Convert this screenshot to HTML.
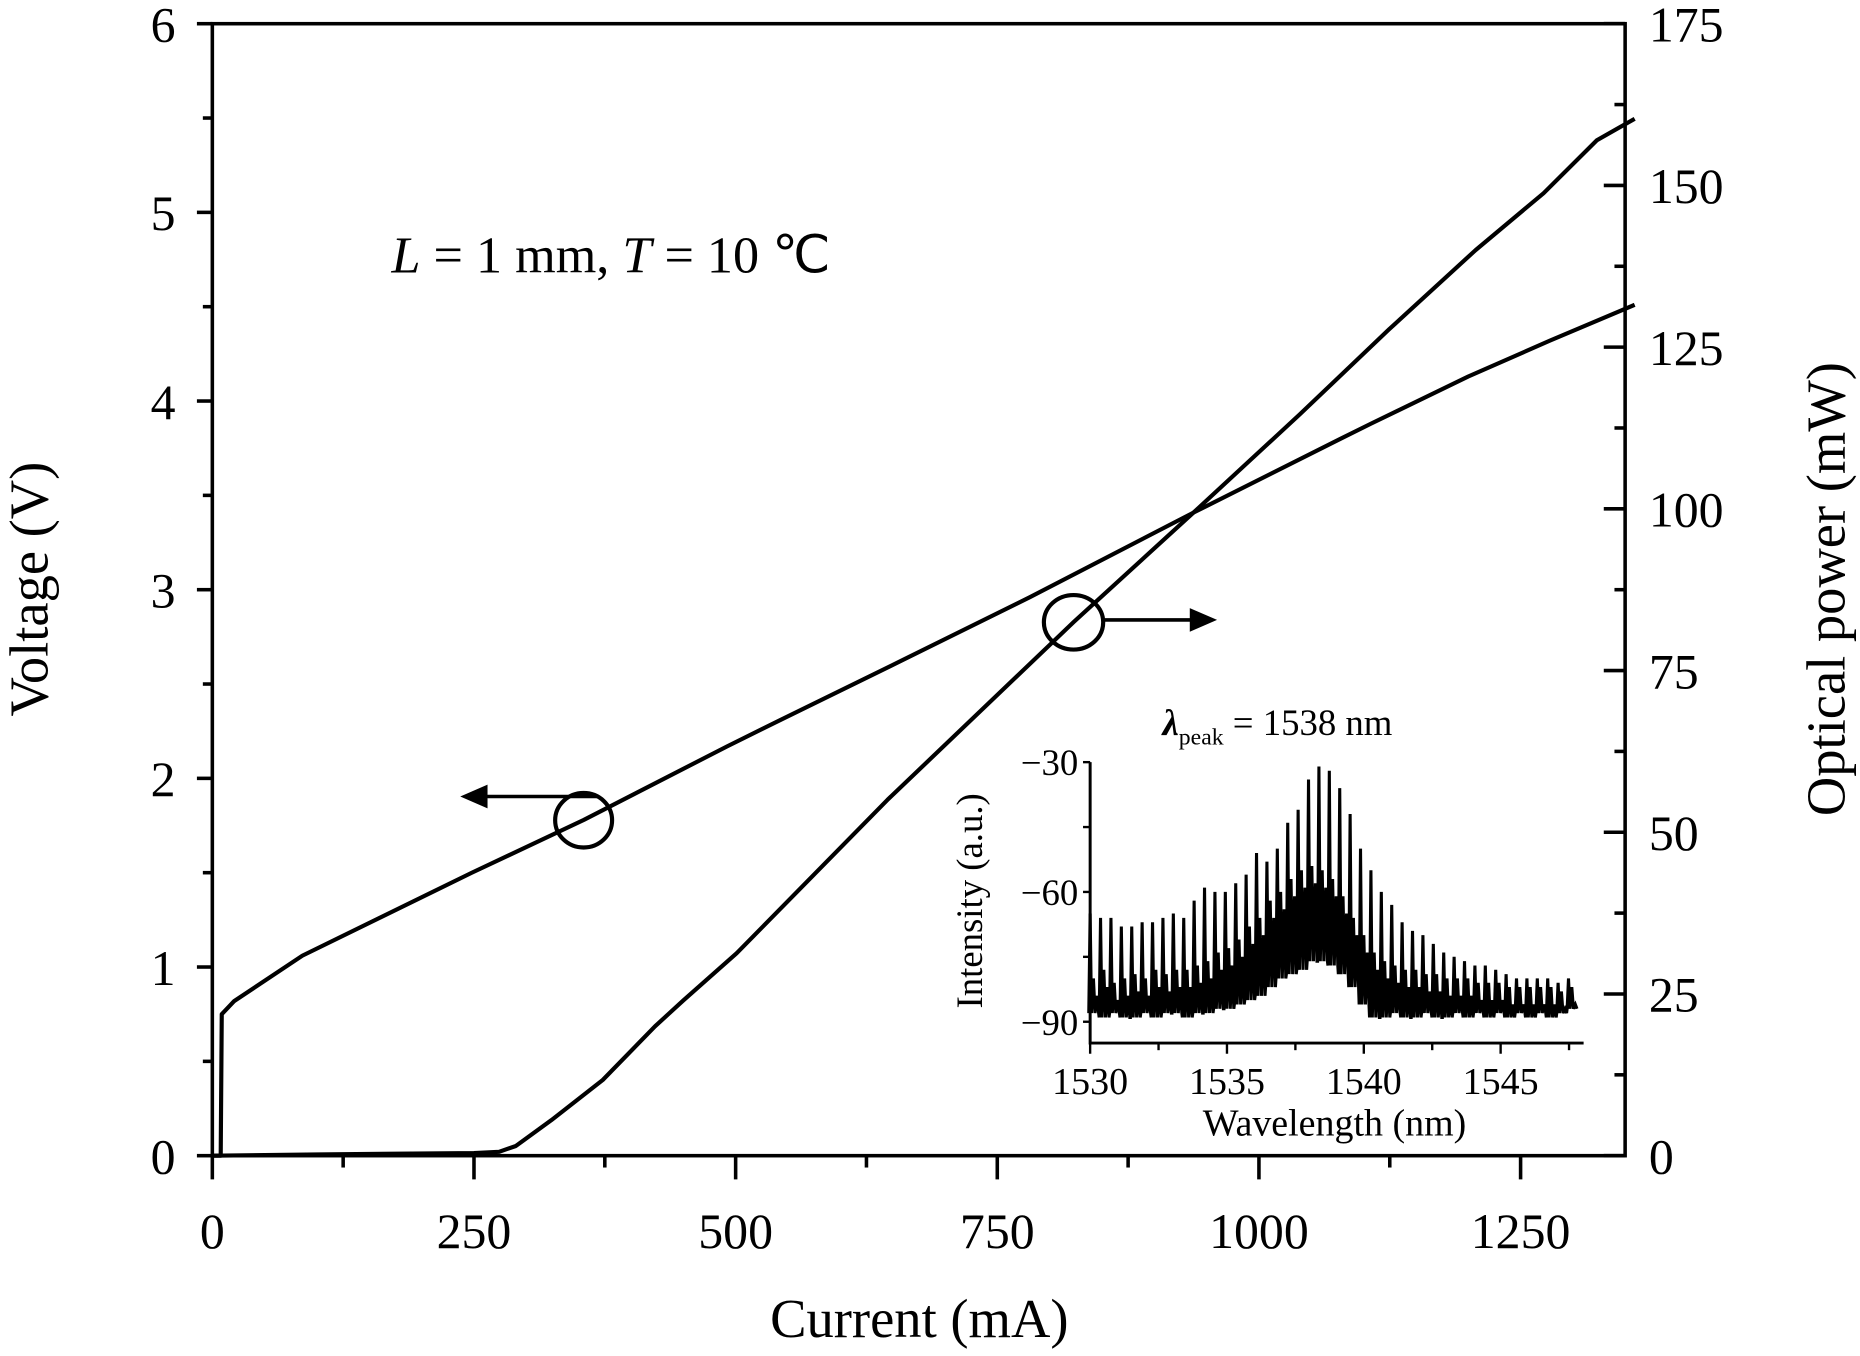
<!DOCTYPE html>
<html><head><meta charset="utf-8"><style>
html,body{margin:0;padding:0;background:#fff;}
svg{display:block;font-family:"Liberation Serif",serif;}
</style></head><body>
<svg id="chart" width="1860" height="1356" viewBox="0 0 1568 1144" preserveAspectRatio="none" xmlns="http://www.w3.org/2000/svg">
<g id="axes"></g>
<g id="marks"></g>
<g id="inset"></g>
<text x="330" y="230" font-size="44"><tspan font-style="italic">L</tspan> = 1 mm, <tspan font-style="italic">T</tspan> = 10 ℃</text>
<text x="775" y="1128" font-size="46" text-anchor="middle">Current (mA)</text>
<text transform="translate(40,497) rotate(-90)" font-size="46" text-anchor="middle">Voltage (V)</text>
<text transform="translate(1555,497) rotate(-90)" font-size="46" text-anchor="middle">Optical power (mW)</text>
<ellipse cx="492" cy="692" rx="24" ry="23" fill="none" stroke="#000" stroke-width="3.5"/>
<path d="M505 672 H405" stroke="#000" stroke-width="3" fill="none"/>
<path d="M388 672 L411 662 L411 682 Z" fill="#000"/>
<ellipse cx="905" cy="525" rx="25" ry="23" fill="none" stroke="#000" stroke-width="3.5"/>
<path d="M930 523 H1008" stroke="#000" stroke-width="3" fill="none"/>
<path d="M1026 523 L1003 513 L1003 533 Z" fill="#000"/>
</svg>
<script>
const currentV = [0, 8, 9, 21, 86, 248, 355, 492, 543, 657, 781, 938, 1078, 1107, 1200, 1278, 1359];
const voltage  = [0, 0, 0.75, 0.82, 1.06, 1.50, 1.78, 2.17, 2.31, 2.62, 2.96, 3.41, 3.80, 3.88, 4.13, 4.32, 4.51];
const currentP = [0, 100, 250, 274, 290, 324, 373, 423, 450, 501, 645, 823, 938, 1039, 1124, 1207, 1272, 1323, 1359];
const power    = [0, 0.2, 0.4, 0.6, 1.5, 5.5, 11.7, 20.0, 24.0, 31.3, 55.0, 82.5, 99.5, 114.6, 127.7, 140.0, 148.8, 157.0, 160.3];
const xTicks = [0, 250, 500, 750, 1000, 1250];
const yLeftTicks = [0, 1, 2, 3, 4, 5, 6];
const yRightTicks = [0, 25, 50, 75, 100, 125, 150, 175];
// inset spectrum: mode peaks, valleys and secondary sub-peaks (a.u.)
const modePeaks = [-65,-66,-66,-68,-68,-67,-67,-66,-65,-66,-62,-59,-60,-60,-58,-56,-51,-53,-50,-44,-41,-34,-31,-32,-36,-42,-50,-55,-60,-63,-67,-69,-70,-72,-74,-75,-76,-77,-77,-78,-79,-80,-80,-80,-80,-81,-80];
const modeValleys = [-88,-89,-88,-89,-89,-88,-89,-88,-88,-89,-88,-88,-87,-87,-86,-85,-84,-82,-80,-79,-78,-76,-76,-77,-79,-82,-86,-89,-89,-88,-89,-89,-88,-89,-89,-88,-89,-88,-89,-88,-89,-88,-89,-88,-89,-88,-87];
const modeSubs = [-80,-78,-81,-80,-79,-80,-78,-79,-78,-78,-77,-76,-74,-73,-71,-68,-66,-62,-60,-57,-55,-54,-55,-57,-61,-66,-70,-74,-76,-77,-78,-78,-79,-79,-80,-80,-80,-81,-81,-81,-82,-82,-82,-82,-82,-83,-82];
const insetXTicks = [1530, 1535, 1540, 1545];
const insetYTicks = [-30, -60, -90];
const modeStart = 1530.0, modeSpacing = 0.38;

const NS = "http://www.w3.org/2000/svg";
const X0 = 179, X1 = 1370, Y0 = 975, Y1 = 20;
const xMax = (X1 - X0) / 0.8823;
const sx = v => X0 + v / xMax * (X1 - X0);
const syV = v => Y0 - v / 6 * (Y0 - Y1);
const syP = v => Y0 - v / 175 * (Y0 - Y1);
function mk(tag, attrs, parent){ const e=document.createElementNS(NS,tag); for(const k in attrs) e.setAttribute(k,attrs[k]); parent.appendChild(e); return e; }
const axes = document.getElementById('axes'), marks = document.getElementById('marks'), inset = document.getElementById('inset');

const frame = mk('rect',{x:X0,y:Y1,width:X1-X0,height:Y0-Y1,fill:'none',stroke:'#000','stroke-width':3},axes);


for(let v=0; v<=1350; v+=125){
  const major = v%250===0;
  const t = mk('line',{x1:sx(v),x2:sx(v),y1:Y0,y2:Y0+(major?20:10),stroke:'#000','stroke-width':3},axes);
  
  
}
xTicks.forEach(v=>{
  const t = mk('text',{x:sx(v),y:1053,'font-size':42,'text-anchor':'middle'},axes); t.textContent=v;
  
  
});
for(let v=0; v<=6.001; v+=0.5){
  const major = Math.abs(v-Math.round(v))<1e-6;
  const t = mk('line',{x1:X0-(major?13:8),x2:X0,y1:syV(v),y2:syV(v),stroke:'#000','stroke-width':3},axes);
  
  
}
yLeftTicks.forEach(v=>{
  const t = mk('text',{x:148,y:syV(v)+15,'font-size':42,'text-anchor':'end'},axes); t.textContent=v;
  
  
});
for(let v=0; v<=175; v+=12.5){
  const major = v%25===0;
  const t = mk('line',{x1:X1-(major?18:9),x2:X1,y1:syP(v),y2:syP(v),stroke:'#000','stroke-width':3},axes);
  
  
}
yRightTicks.forEach(v=>{
  const t = mk('text',{x:1390,y:syP(v)+15,'font-size':42,'text-anchor':'start'},axes); t.textContent=v;
  
  
});
const vLine = mk('polyline',{points:currentV.map((c,i)=>sx(c)+','+syV(voltage[i])).join(' '),fill:'none',stroke:'#000','stroke-width':3.5,'stroke-linejoin':'round'},marks);


const pLine = mk('polyline',{points:currentP.map((c,i)=>sx(c)+','+syP(power[i])).join(' '),fill:'none',stroke:'#000','stroke-width':3.5,'stroke-linejoin':'round'},marks);



// inset
const IX0=919, IX1=1335, IY0=880;
const ix = w => IX0 + (w-1530)*23.07;
const iy = v => 643 + (-30 - v)*3.65;
const sp=[];
modePeaks.forEach((p,i)=>{
  const w = modeStart + i*modeSpacing;
  sp.push(ix(w-0.05)+','+iy(modeValleys[i]));
  sp.push(ix(w)+','+iy(p));
  sp.push(ix(w+0.05)+','+iy(modeValleys[i]));
  sp.push(ix(w+0.12)+','+iy(modeSubs[i]));
  sp.push(ix(w+0.18)+','+iy(modeValleys[i]));
  sp.push(ix(w+0.25)+','+iy(modeSubs[i]-4));
  sp.push(ix(w+0.31)+','+iy(modeValleys[i]));
});
const spec = mk('polyline',{points:sp.join(' '),fill:'none',stroke:'#000','stroke-width':2.6,'stroke-linejoin':'miter'},inset);


const ia = mk('path',{d:`M${IX0} 643 V${IY0} H${IX1}`,fill:'none',stroke:'#000','stroke-width':2.5},inset);


for(let v=-90; v<=-30; v+=15){
  const t = mk('line',{x1:IX0-6,x2:IX0,y1:iy(v),y2:iy(v),stroke:'#000','stroke-width':2},inset);
  
  
}
insetYTicks.forEach(v=>{
  const t = mk('text',{x:IX0-10,y:iy(v)+11,'font-size':31,'text-anchor':'end'},inset); t.textContent='\u2212'+Math.abs(v);
  
  
});
for(let w=1530; w<=1547.6; w+=2.5){
  const t = mk('line',{x1:ix(w),x2:ix(w),y1:IY0,y2:IY0+(w%5===0?9:6),stroke:'#000','stroke-width':2},inset);
  
  
}
insetXTicks.forEach(w=>{
  const t = mk('text',{x:ix(w),y:923,'font-size':32,'text-anchor':'middle'},inset); t.textContent=w;
  
  
});
const ixl = mk('text',{x:1125,y:958,'font-size':32,'text-anchor':'middle'},inset); ixl.textContent='Wavelength (nm)';


const iyl = mk('text',{transform:'translate(828,760) rotate(-90)','font-size':31,'text-anchor':'middle'},inset); iyl.textContent='Intensity (a.u.)';


const it = mk('text',{x:980,y:620,'font-size':31},inset);
it.innerHTML='<tspan font-style="italic" font-weight="bold">λ</tspan><tspan font-size="20" dy="8">peak</tspan><tspan dy="-8"> = 1538 nm</tspan>';


</script>
</body></html>
